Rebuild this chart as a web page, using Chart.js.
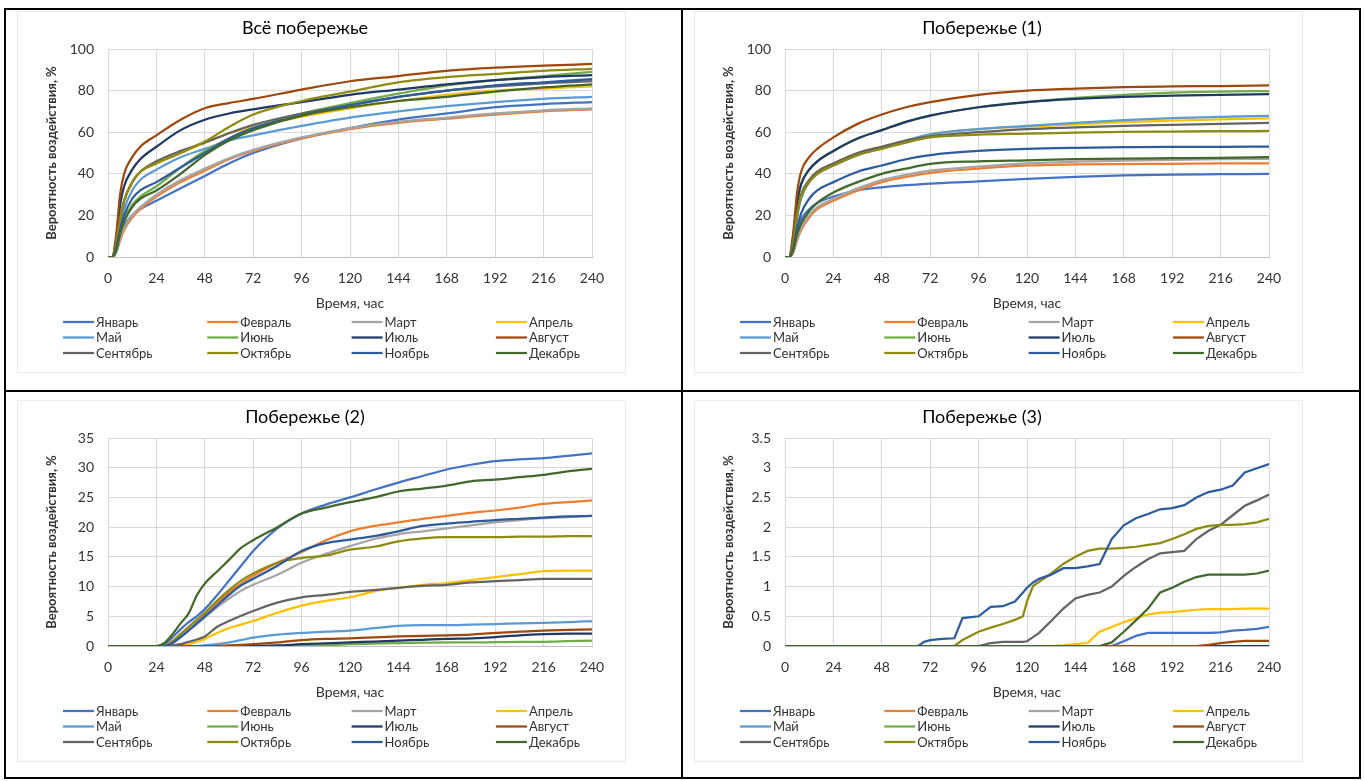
<!DOCTYPE html>
<html lang="ru">
<head>
<meta charset="UTF-8">
<title>Вероятность воздействия по месяцам</title>
<style>
  body { margin: 0; background: #fff; }
  /* рамка таблицы 2x2 */
  .frame { position: absolute; left: 4px; top: 8px; width: 1357px; height: 771px; border: 2px solid #000; box-sizing: border-box; }
  .vline { position: absolute; left: 681px; top: 8px; width: 2px; height: 771px; background: #000; }
  .hline { position: absolute; left: 4px; top: 390px; width: 1357px; height: 2px; background: #000; }
  .panel { position: absolute; width: 607px; height: 360px; box-shadow: 0 0 0 1px #ebebeb; background: #fff; }
  .panel canvas { display: block; }
</style>
<script src="https://cdn.jsdelivr.net/npm/chart.js"></script>
</head>
<body>
<div class="frame"></div>
<div class="vline"></div>
<div class="hline"></div>
<div class="panel" style="left:18px;top:12px"><canvas id="c1" width="607" height="360"></canvas></div>
<div class="panel" style="left:695px;top:12px"><canvas id="c2" width="607" height="360"></canvas></div>
<div class="panel" style="left:18px;top:401px"><canvas id="c3" width="607" height="360"></canvas></div>
<div class="panel" style="left:695px;top:401px"><canvas id="c4" width="607" height="360"></canvas></div>
<script>
// ===== данные =====
const months = ['Январь', 'Февраль', 'Март', 'Апрель', 'Май', 'Июнь',
                'Июль', 'Август', 'Сентябрь', 'Октябрь', 'Ноябрь', 'Декабрь'];
const colors = ['#4472C4', '#ED7D31', '#A5A5A5', '#FFC000', '#5B9BD5', '#70AD47',
                '#1F3864', '#9E480E', '#636363', '#8F8A12', '#2E5A9E', '#43682B'];

// часы для "Всё побережье" и "Побережье (1)"
const hoursA = [0, 2, 4, 6, 8, 12, 16, 24, 36, 48, 60, 72, 96, 120, 144, 168, 192, 216, 240];

// Всё побережье (по месяцам)
const coastAll = [
  [0, 0, 3, 10, 15, 20, 23, 27, 33, 39, 45, 50, 57, 62, 66, 69, 72, 73.5, 74.5],
  [0, 0, 2, 8, 13, 19, 23, 29, 36, 41.5, 47, 51, 57, 61.5, 64.5, 66.5, 68.5, 70, 71],
  [0, 0, 2, 9, 14, 20, 24, 30, 37, 42.5, 47.5, 51.5, 57.5, 62, 65, 67, 69, 70.5, 71.5],
  [0, 0, 6, 18, 27, 36, 41, 45, 50, 55, 59.5, 62.5, 67.5, 71.5, 75, 78, 80, 81, 82],
  [0, 0, 5, 15, 23, 32, 37, 42, 48, 52, 56, 58.5, 63, 67, 70, 72.5, 74.5, 76, 77],
  [0, 0, 3, 12, 18, 25, 29, 34, 43, 51, 57, 62, 69, 74, 78.5, 82.5, 85, 87, 89],
  [0, 0, 8, 25, 34, 42, 47, 53, 61, 66, 69, 71, 74.5, 78, 80.5, 83, 85, 86.5, 87.5],
  [0, 0, 10, 30, 40, 48, 53, 58.5, 66, 71.5, 74, 76, 80.5, 84.5, 87, 89.5, 91, 92, 92.8],
  [0, 0, 6, 18, 27, 36, 41, 46, 51, 55, 59.5, 63.5, 69, 73, 77, 80, 82, 83.5, 84.5],
  [0, 0, 6, 18, 27, 36, 41, 45, 50, 55.5, 62.5, 68.5, 75, 79.5, 84, 86.5, 88, 89.5, 90.5],
  [0, 0, 4, 13, 20, 28, 32, 36, 43, 50, 57, 62, 68, 73, 77, 80, 82.5, 84, 85.5],
  [0, 0, 3, 11, 17, 24, 28, 32, 40, 49, 56, 61, 68, 72, 75, 77, 79.5, 81.5, 83]
];

// Побережье (1)
const coast1 = [
  [0, 0, 3, 12, 18, 23, 26, 29, 32, 33.5, 34.5, 35.3, 36.3, 37.6, 38.5, 39.2, 39.6, 39.8, 40],
  [0, 0, 2, 8, 13, 19, 23, 27, 32, 36, 38.5, 40.5, 42.5, 44, 44.5, 44.7, 44.8, 45, 45],
  [0, 0, 2, 9, 14, 20, 24, 28, 33, 37, 39.5, 41.5, 43.5, 45, 45.8, 46.3, 46.7, 47, 47.2],
  [0, 0, 7, 21, 30, 37, 41, 45, 50, 53, 56, 59, 61.5, 62.7, 63.8, 64.8, 65.6, 66.2, 66.6],
  [0, 0, 6, 19, 28, 36, 40, 44, 49, 52.5, 56, 59, 61.5, 63, 64.5, 65.8, 66.8, 67.4, 67.8],
  [0, 0, 9, 26, 35, 42, 46, 51, 57, 61, 65, 68, 72, 74.5, 76.5, 78, 79, 79.5, 79.8],
  [0, 0, 9, 26, 35, 42, 46, 51, 57, 61, 65, 68, 72, 74.5, 76, 77, 77.6, 78, 78.3],
  [0, 0, 11, 31, 41, 48, 52, 57.5, 64, 68.5, 72, 74.5, 78, 80, 81, 81.7, 82, 82.2, 82.5],
  [0, 0, 7, 21, 30, 37, 41, 45, 50, 53, 56, 58, 60, 61.5, 62.3, 63, 63.5, 64, 64.5],
  [0, 0, 6, 20, 29, 36, 40, 44, 49, 52, 55, 57.5, 58.8, 59.3, 59.8, 60.1, 60.3, 60.5, 60.6],
  [0, 0, 4, 14, 21, 28, 32, 36, 41, 44, 47, 49, 51, 52, 52.5, 52.8, 53, 53, 53.1],
  [0, 0, 3, 11, 16, 22, 26, 31, 36, 40, 42.5, 44.8, 46, 46.5, 47, 47.3, 47.5, 47.7, 48]
];

// Побережье (2)
const hoursB = [0, 24, 28, 32, 36, 40, 44, 48, 54, 60, 66, 72, 84, 96, 108, 120, 132, 144, 156, 168, 180, 192, 204, 216, 228, 240];
const coast2 = [
  [0, 0, 0.3, 1.5, 2.8, 4, 5, 6.2, 8.5, 11, 13.5, 16, 19.8, 22.3, 23.8, 25, 26.3, 27.5, 28.6, 29.7, 30.5, 31.1, 31.4, 31.6, 32, 32.4],
  [0, 0, 0, 0.8, 2, 3.2, 4.3, 5.5, 7.3, 9, 10.5, 11.8, 14, 15.8, 17.8, 19.3, 20.2, 20.8, 21.4, 21.9, 22.4, 22.8, 23.3, 23.9, 24.2, 24.5],
  [0, 0, 0, 0.5, 1.5, 2.7, 3.7, 4.8, 6.5, 8, 9.3, 10.3, 12, 14, 15.5, 16.8, 18, 18.8, 19.3, 19.8, 20.3, 20.8, 21.2, 21.5, 21.7, 21.9],
  [0, 0, 0, 0, 0, 0.3, 0.7, 1.2, 2.2, 3, 3.6, 4.2, 5.6, 6.8, 7.6, 8.2, 9.2, 9.8, 10.3, 10.6, 11.1, 11.6, 12.1, 12.6, 12.7, 12.7],
  [0, 0, 0, 0, 0, 0, 0, 0.1, 0.3, 0.6, 1, 1.4, 1.9, 2.2, 2.4, 2.6, 3, 3.4, 3.5, 3.5, 3.6, 3.7, 3.8, 3.9, 4, 4.2],
  [0, 0, 0, 0, 0, 0, 0, 0, 0, 0, 0, 0, 0, 0, 0.1, 0.3, 0.4, 0.5, 0.55, 0.6, 0.6, 0.65, 0.7, 0.7, 0.8, 0.9],
  [0, 0, 0, 0, 0, 0, 0, 0, 0, 0, 0, 0, 0.1, 0.3, 0.45, 0.6, 0.75, 0.9, 1.05, 1.2, 1.3, 1.5, 1.8, 2, 2.1, 2.1],
  [0, 0, 0, 0, 0, 0, 0, 0, 0, 0.1, 0.2, 0.3, 0.6, 1, 1.2, 1.3, 1.45, 1.6, 1.7, 1.8, 1.9, 2.2, 2.4, 2.6, 2.7, 2.8],
  [0, 0, 0, 0.1, 0.3, 0.7, 1.1, 1.6, 3.2, 4.2, 5.1, 5.9, 7.3, 8.2, 8.6, 9.1, 9.4, 9.8, 10.1, 10.3, 10.7, 10.9, 11.1, 11.3, 11.3, 11.3],
  [0, 0, 0, 0.8, 2, 3.2, 4.4, 5.6, 7.6, 9.4, 11, 12.2, 14, 14.8, 15.2, 16.2, 16.7, 17.6, 18.1, 18.3, 18.3, 18.3, 18.4, 18.4, 18.5, 18.5],
  [0, 0, 0, 0.5, 1.5, 2.6, 3.8, 5, 6.8, 8.6, 10.2, 11.3, 13.5, 16, 17.3, 17.9, 18.5, 19.3, 20.2, 20.6, 20.9, 21.2, 21.4, 21.6, 21.8, 21.9],
  [0, 0, 0.5, 2, 3.8, 5.5, 8.5, 10.5, 12.5, 14.5, 16.5, 17.8, 20, 22.3, 23.3, 24.2, 25, 26, 26.5, 27, 27.7, 28, 28.4, 28.8, 29.4, 29.8]
];

// Побережье (3)
const hoursC = [0, 66, 69, 72, 78, 84, 88, 96, 102, 108, 114, 118, 120, 123, 126, 132, 138, 144, 150, 156, 162, 168, 174, 180, 186, 192, 198, 204, 210, 216, 222, 228, 234, 240];
const coast3 = [
  [0, 0, 0, 0, 0, 0, 0, 0, 0, 0, 0, 0, 0, 0, 0, 0, 0, 0, 0, 0, 0, 0.08, 0.17, 0.22, 0.22, 0.22, 0.22, 0.22, 0.22, 0.23, 0.26, 0.27, 0.29, 0.32],
  [0, 0, 0, 0, 0, 0, 0, 0, 0, 0, 0, 0, 0, 0, 0, 0, 0, 0, 0, 0, 0, 0, 0, 0, 0, 0, 0, 0, 0, 0, 0, 0, 0, 0],
  [0, 0, 0, 0, 0, 0, 0, 0, 0, 0, 0, 0, 0, 0, 0, 0, 0, 0, 0, 0, 0, 0, 0, 0, 0, 0, 0, 0, 0, 0, 0, 0, 0, 0],
  [0, 0, 0, 0, 0, 0, 0, 0, 0, 0, 0, 0, 0, 0, 0, 0, 0.01, 0.03, 0.05, 0.24, 0.32, 0.4, 0.47, 0.53, 0.56, 0.57, 0.59, 0.61, 0.62, 0.62, 0.62, 0.63, 0.63, 0.63],
  [0, 0, 0, 0, 0, 0, 0, 0, 0, 0, 0, 0, 0, 0, 0, 0, 0, 0, 0, 0, 0, 0, 0, 0, 0, 0, 0, 0, 0, 0, 0, 0, 0, 0],
  [0, 0, 0, 0, 0, 0, 0, 0, 0, 0, 0, 0, 0, 0, 0, 0, 0, 0, 0, 0, 0, 0, 0, 0, 0, 0, 0, 0, 0, 0, 0, 0, 0, 0],
  [0, 0, 0, 0, 0, 0, 0, 0, 0, 0, 0, 0, 0, 0, 0, 0, 0, 0, 0, 0, 0, 0, 0, 0, 0, 0, 0, 0, 0, 0, 0, 0, 0, 0],
  [0, 0, 0, 0, 0, 0, 0, 0, 0, 0, 0, 0, 0, 0, 0, 0, 0, 0, 0, 0, 0, 0, 0, 0, 0, 0, 0, 0, 0.02, 0.05, 0.07, 0.085, 0.085, 0.085],
  [0, 0, 0, 0, 0, 0, 0, 0, 0.05, 0.07, 0.07, 0.07, 0.08, 0.15, 0.22, 0.42, 0.63, 0.8, 0.86, 0.9, 1, 1.18, 1.33, 1.46, 1.56, 1.58, 1.6, 1.8, 1.94, 2.04, 2.2, 2.36, 2.45, 2.55],
  [0, 0, 0, 0, 0, 0, 0.1, 0.24, 0.31, 0.37, 0.44, 0.5, 0.75, 1.01, 1.08, 1.22, 1.38, 1.5, 1.6, 1.64, 1.64, 1.65, 1.67, 1.7, 1.73, 1.8, 1.88, 1.97, 2.02, 2.04, 2.04, 2.05, 2.08, 2.14],
  [0, 0, 0.07, 0.1, 0.12, 0.13, 0.47, 0.5, 0.66, 0.67, 0.75, 0.9, 0.98, 1.07, 1.13, 1.2, 1.31, 1.31, 1.34, 1.38, 1.8, 2.03, 2.15, 2.22, 2.3, 2.32, 2.37, 2.5, 2.59, 2.63, 2.7, 2.92, 2.99, 3.06],
  [0, 0, 0, 0, 0, 0, 0, 0, 0, 0, 0, 0, 0, 0, 0, 0, 0, 0, 0, 0, 0.06, 0.24, 0.43, 0.63, 0.9, 0.98, 1.08, 1.16, 1.2, 1.2, 1.2, 1.2, 1.22, 1.27]
];

// ===== оформление =====
const FONT = 'Lato, "Open Sans", sans-serif';
const TXT = '#333';

// легенда в 4 колонки, как в Excel
const gridLegend = {
  id: 'gridLegend',
  afterDraw(chart) {
    const ctx = chart.ctx;
    const left = chart.chartArea.left - 45;
    const top = chart.chartArea.bottom + 65;
    ctx.save();
    ctx.font = '13px ' + FONT;
    ctx.textBaseline = 'middle';
    ctx.fillStyle = TXT;
    chart.data.datasets.forEach((ds, i) => {
      const x = left + (i % 4) * 144.3;
      const y = top + Math.floor(i / 4) * 15.5;
      ctx.strokeStyle = ds.borderColor;
      ctx.lineWidth = 2.25;
      ctx.beginPath();
      ctx.moveTo(x, y);
      ctx.lineTo(x + 31, y);
      ctx.stroke();
      ctx.fillText(ds.label, x + 33, y + 0.5);
    });
    ctx.restore();
  }
};

function makeChart(id, title, hours, series, yMax, yStep, smooth) {
  const datasets = months.map((m, i) => ({
    label: m,
    data: hours.map((h, k) => ({ x: h, y: series[i][k] })),
    borderColor: colors[i],
    borderWidth: 2.25,
    pointRadius: 0,
    fill: false,
    tension: smooth ? 0.4 : 0,
    cubicInterpolationMode: smooth ? 'monotone' : 'default',
    order: months.length - 1 - i
  }));

  return new Chart(document.getElementById(id), {
    type: 'line',
    data: { datasets },
    options: {
      responsive: false,
      animation: false,
      layout: { padding: { left: 0, right: 33, top: 0, bottom: 59 } },
      plugins: {
        legend: { display: false },
        tooltip: { enabled: false },
        title: {
          display: true, text: title, color: '#000',
          font: { family: FONT, size: 18, weight: 'normal' },
          padding: { top: 5, bottom: 10.4 }
        }
      },
      scales: {
        x: {
          type: 'linear', min: 0, max: 240,
          ticks: { stepSize: 24, padding: 13, color: TXT, font: { family: FONT, size: 14 } },
          grid: { color: '#d9d9d9', drawTicks: false },
          border: { color: '#bfbfbf' },
          title: { display: true, text: 'Время, час', color: TXT, font: { family: FONT, size: 14 }, padding: { top: 0, bottom: 1 } },
          afterFit: s => { s.height = 56; }
        },
        y: {
          min: 0, max: yMax,
          ticks: {
            stepSize: yStep, padding: 14, color: TXT, font: { family: FONT, size: 14 },
            callback: v => String(Math.round(v * 10) / 10)
          },
          grid: { color: '#d9d9d9', drawTicks: false },
          border: { display: false },
          title: {
            display: true, text: 'Вероятность воздействия, %', color: TXT,
            font: { family: FONT, size: 13, weight: 'bold' }, padding: { top: 26, bottom: 4 }
          },
          afterFit: s => { s.width = 90; }
        }
      }
    },
    plugins: [gridLegend]
  });
}

makeChart('c1', 'Всё побережье', hoursA, coastAll, 100, 20, true);
makeChart('c2', 'Побережье (1)', hoursA, coast1, 100, 20, true);
makeChart('c3', 'Побережье (2)', hoursB, coast2, 35, 5, true);
makeChart('c4', 'Побережье (3)', hoursC, coast3, 3.5, 0.5, false);
</script>
</body>
</html>
